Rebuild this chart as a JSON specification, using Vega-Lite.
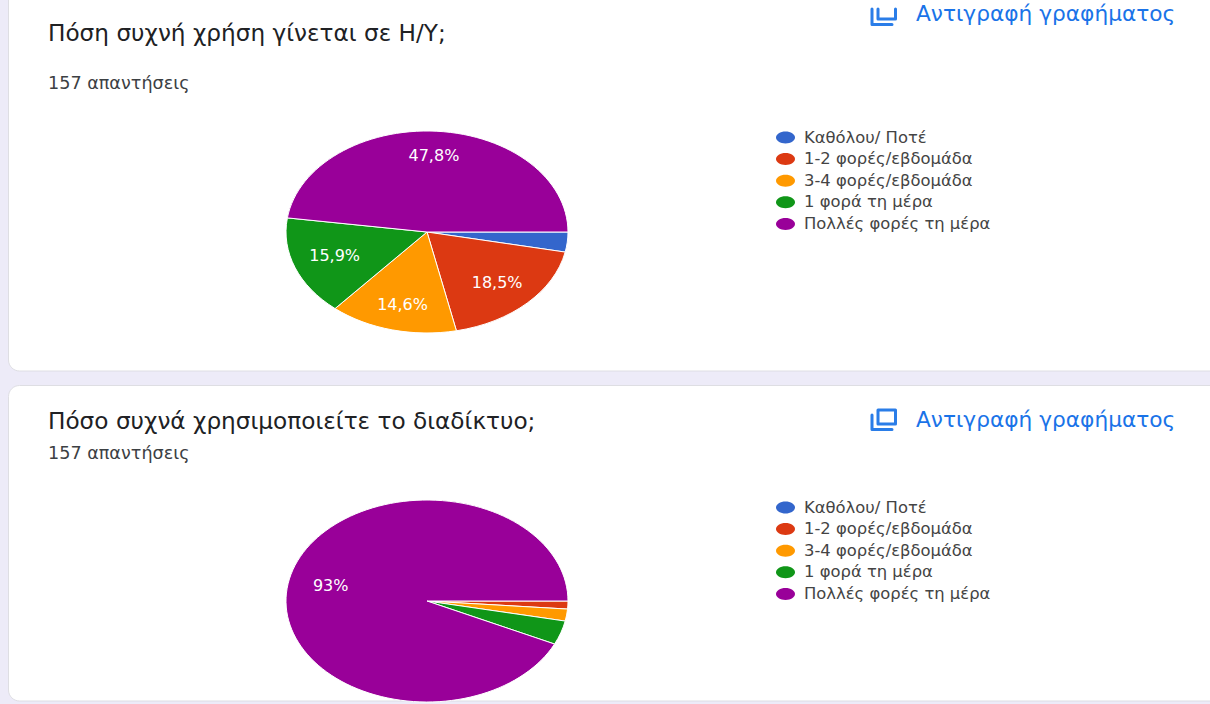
{
"$schema":"https://vega.github.io/schema/vega-lite/v6.json",
"width":1210,"height":704,"padding":0,"autosize":"none","background":"#edebf8",
"view":{"stroke":null},
"datasets":{"answers":[
{"chart":"A","order":1,"answer":"Καθόλου/ Ποτέ","count":5,"label":""},
{"chart":"A","order":2,"answer":"1-2 φορές/εβδομάδα","count":29,"label":"18,5%"},
{"chart":"A","order":3,"answer":"3-4 φορές/εβδομάδα","count":23,"label":"14,6%"},
{"chart":"A","order":4,"answer":"1 φορά τη μέρα","count":25,"label":"15,9%"},
{"chart":"A","order":5,"answer":"Πολλές φορές τη μέρα","count":75,"label":"47,8%"},
{"chart":"B","order":1,"answer":"Καθόλου/ Ποτέ","count":0,"label":""},
{"chart":"B","order":2,"answer":"1-2 φορές/εβδομάδα","count":2,"label":""},
{"chart":"B","order":3,"answer":"3-4 φορές/εβδομάδα","count":3,"label":""},
{"chart":"B","order":4,"answer":"1 φορά τη μέρα","count":6,"label":""},
{"chart":"B","order":5,"answer":"Πολλές φορές τη μέρα","count":146,"label":"93%"}
],
"one":[{"a":1}]},
"layer":[
{"data":{"name":"one"},"mark":{"type":"rect","fill":"#ffffff","stroke":"#dedee3","strokeWidth":1,"cornerRadius":11},
 "encoding":{"x":{"value":8.5},"x2":{"value":1240},"y":{"value":-30},"y2":{"value":371}}},
{"data":{"name":"one"},"mark":{"type":"rect","fill":"#ffffff","stroke":"#dedee3","strokeWidth":1,"cornerRadius":11},
 "encoding":{"x":{"value":8.5},"x2":{"value":1240},"y":{"value":385.5},"y2":{"value":701}}},
{"data":{"name":"answers"},
 "transform":[{"filter":"datum.chart==='A'"},
  {"stack":"count","groupby":["chart"],"sort":[{"field":"order","order":"ascending"}],"as":["s0","s1"]},
  {"calculate":"PI/2+2*PI*datum.s0/157","as":"a0"},
  {"calculate":"PI/2+2*PI*datum.s1/157","as":"a1"},
  {"calculate":"'M0,0L'+141*sin(datum.a0)+','+(-101*cos(datum.a0))+'A141,101 0 '+(datum.a1-datum.a0>PI?1:0)+' 1 '+141*sin(datum.a1)+','+(-101*cos(datum.a1))+'Z'","as":"wedge"}],
 "mark":{"type":"point","filled":true,"opacity":1,"stroke":"#ffffff","strokeWidth":1},
 "encoding":{"x":{"value":427},"y":{"value":232},"size":{"value":4},
  "shape":{"field":"wedge","type":"nominal","scale":null,"legend":null},
  "color":{"field":"answer","type":"nominal","sort":null,
   "scale":{"domain":["Καθόλου/ Ποτέ","1-2 φορές/εβδομάδα","3-4 φορές/εβδομάδα","1 φορά τη μέρα","Πολλές φορές τη μέρα"],"range":["#3366cc","#dc3912","#ff9900","#109618","#990099"]},
   "legend":{"title":null,"orient":"none","legendX":776,"legendY":128,"symbolType":"M-1,0C-1,-0.35 -0.55,-0.63 0,-0.63C0.55,-0.63 1,-0.35 1,0C1,0.35 0.55,0.63 0,0.63C-0.55,0.63 -1,0.35 -1,0Z","symbolSize":361,"symbolStrokeWidth":0,"symbolOpacity":1,"labelFont":"DejaVu Sans","labelFontSize":16.4,"labelLimit":300,"labelColor":"#444444","labelOffset":9,"rowPadding":3.6,"padding":0}}}},
{"data":{"name":"answers"},
 "transform":[{"filter":"datum.chart==='B' && datum.count>0"},
  {"stack":"count","groupby":["chart"],"sort":[{"field":"order","order":"ascending"}],"as":["s0","s1"]},
  {"calculate":"PI/2+2*PI*datum.s0/157","as":"a0"},
  {"calculate":"PI/2+2*PI*datum.s1/157","as":"a1"},
  {"calculate":"'M0,0L'+141*sin(datum.a0)+','+(-101*cos(datum.a0))+'A141,101 0 '+(datum.a1-datum.a0>PI?1:0)+' 1 '+141*sin(datum.a1)+','+(-101*cos(datum.a1))+'Z'","as":"wedge"}],
 "mark":{"type":"point","filled":true,"opacity":1,"stroke":"#ffffff","strokeWidth":1},
 "encoding":{"x":{"value":427},"y":{"value":601},"size":{"value":4},
  "shape":{"field":"wedge","type":"nominal","scale":null,"legend":null},
  "color":{"field":"answer","type":"nominal","sort":null,
   "scale":{"domain":["Καθόλου/ Ποτέ","1-2 φορές/εβδομάδα","3-4 φορές/εβδομάδα","1 φορά τη μέρα","Πολλές φορές τη μέρα"],"range":["#3366cc","#dc3912","#ff9900","#109618","#990099"]},
   "legend":{"title":null,"orient":"none","legendX":776,"legendY":498,"symbolType":"M-1,0C-1,-0.35 -0.55,-0.63 0,-0.63C0.55,-0.63 1,-0.35 1,0C1,0.35 0.55,0.63 0,0.63C-0.55,0.63 -1,0.35 -1,0Z","symbolSize":361,"symbolStrokeWidth":0,"symbolOpacity":1,"labelFont":"DejaVu Sans","labelFontSize":16.4,"labelLimit":300,"labelColor":"#444444","labelOffset":9,"rowPadding":3.6,"padding":0}}}},
{"data":{"name":"answers"},
 "transform":[
  {"stack":"count","groupby":["chart"],"sort":[{"field":"order","order":"ascending"}],"as":["s0","s1"]},
  {"filter":"datum.label!==''"},
  {"calculate":"PI/2+PI*(datum.s0+datum.s1)/157","as":"mid"},
  {"calculate":"427+0.7*141*sin(datum.mid)","as":"lx"},
  {"calculate":"(datum.chart==='A'?232:601)-(0.65+0.1*abs(cos(datum.mid)))*101*cos(datum.mid)","as":"ly"}],
 "mark":{"type":"text","font":"DejaVu Sans","fontSize":16,"fill":"#ffffff","align":"center","baseline":"middle"},
 "encoding":{"x":{"field":"lx","type":"quantitative","scale":null},"y":{"field":"ly","type":"quantitative","scale":null},"text":{"field":"label"}}},
{"data":{"values":[{"t":"Πόση συχνή χρήση γίνεται σε Η/Υ;"}]},"mark":{"type":"text","font":"DejaVu Sans","fontSize":23.2,"fill":"#202124","align":"left","baseline":"alphabetic"},
 "encoding":{"x":{"value":48},"y":{"value":41},"text":{"field":"t"}}},
{"data":{"values":[{"t":"Πόσο συχνά χρησιμοποιείτε το διαδίκτυο;"}]},"mark":{"type":"text","font":"DejaVu Sans","fontSize":23.2,"fill":"#202124","align":"left","baseline":"alphabetic"},
 "encoding":{"x":{"value":48},"y":{"value":429},"text":{"field":"t"}}},
{"data":{"values":[{"t":"157 απαντήσεις"}]},"mark":{"type":"text","font":"DejaVu Sans","fontSize":17.6,"fill":"#3c4043","align":"left","baseline":"alphabetic"},
 "encoding":{"x":{"value":48},"y":{"value":89},"text":{"field":"t"}}},
{"data":{"values":[{"t":"157 απαντήσεις"}]},"mark":{"type":"text","font":"DejaVu Sans","fontSize":17.6,"fill":"#3c4043","align":"left","baseline":"alphabetic"},
 "encoding":{"x":{"value":48},"y":{"value":459},"text":{"field":"t"}}},
{"data":{"values":[{"t":"Αντιγραφή γραφήματος"}]},"mark":{"type":"text","font":"DejaVu Sans","fontSize":21.7,"fill":"#1a73e8","align":"left","baseline":"alphabetic"},
 "encoding":{"x":{"value":916},"y":{"value":21},"text":{"field":"t"}}},
{"data":{"values":[{"t":"Αντιγραφή γραφήματος"}]},"mark":{"type":"text","font":"DejaVu Sans","fontSize":21.7,"fill":"#1a73e8","align":"left","baseline":"alphabetic"},
 "encoding":{"x":{"value":916},"y":{"value":427},"text":{"field":"t"}}},
{"data":{"name":"one"},"mark":{"type":"point","filled":false,"opacity":1,"stroke":"#2a7de8","strokeWidth":3,"strokeJoin":"round","strokeCap":"round","shape":"M-6,-9L11.5,-9L11.5,5L-6,5Z M-12,-4L-12,10.5L8,10.5"},
 "encoding":{"x":{"value":884},"y":{"value":419},"size":{"value":4}}},
{"data":{"name":"one"},"mark":{"type":"point","filled":false,"opacity":1,"stroke":"#2a7de8","strokeWidth":3,"strokeJoin":"round","strokeCap":"round","shape":"M-6,-5L-6,5L11.5,5L11.5,-5 M-12,-5L-12,10.5L8,10.5"},
 "encoding":{"x":{"value":884},"y":{"value":14},"size":{"value":4}}}
],
"resolve":{"scale":{"color":"independent","shape":"independent"},"legend":{"color":"independent"}}
}
